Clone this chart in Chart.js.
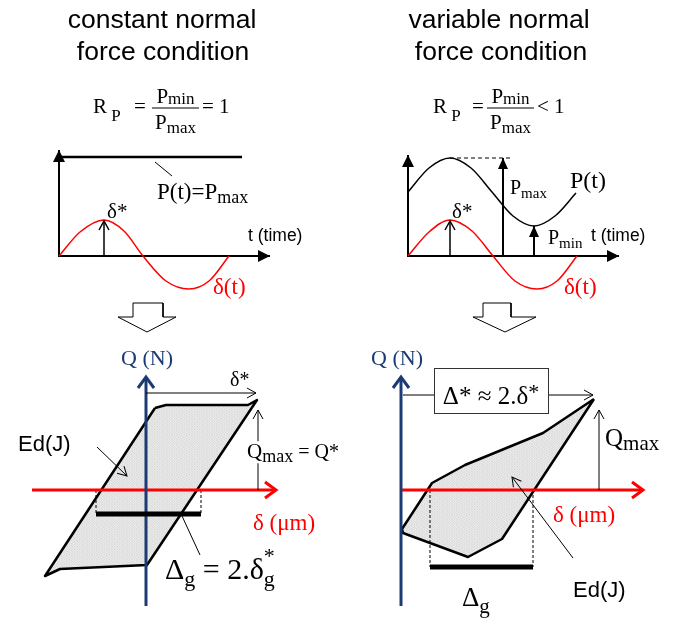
<!DOCTYPE html>
<html>
<head>
<meta charset="utf-8">
<style>
  html, body { margin: 0; padding: 0; background: #fff; }
  canvas { display: block; }
</style>
<script src="https://cdn.jsdelivr.net/npm/chart.js@4.4.1/dist/chart.umd.min.js"></script>
</head>
<body>
<canvas id="diagram" width="678" height="620" style="width:678px;height:620px"></canvas>
<script>
// --- data: diagram units (x 0..678, y 0..620, y downwards) ---

// top left: constant normal force
const tlAxisV = [[59, 257], [59, 150]];
const tlAxisH = [[58, 256], [270, 256]];
const tlPconst = [[59, 157], [242, 157]];
const tlPleader = [[155, 162], [172, 176]];
const tlDeltaX = [59, 80, 104, 124, 143, 166, 189, 209, 229];
const tlDeltaY = [256, 232, 220, 231, 256, 281, 289, 281, 256];
const tlDeltaStar = [[104, 256], [104, 221]];
const tlFracBar = [[152, 108], [199, 108]];

// top right: variable normal force
const trAxisV = [[408, 257], [408, 155]];
const trAxisH = [[407, 256], [619, 256]];
const trPX = [408, 429, 450, 471, 492, 513, 534, 555, 576];
const trPY = [192, 168, 158, 168, 192, 216, 226, 216, 193];
const trDeltaX = [408, 429, 450, 472, 493, 515, 537, 557, 577];
const trDeltaY = [256, 232, 220, 231, 256, 281, 289, 281, 256];
const trPmaxDash = [[450, 158], [512, 158]];
const trPmaxArrow = [[503, 256], [503, 158]];
const trPminArrow = [[534, 256], [534, 226]];
const trDeltaStar = [[450, 256], [450, 221]];
const trFracBar = [[487, 108], [534, 108]];

// hollow block arrows
const blockLeft = [[133, 303], [163, 303], [163, 317], [176, 317], [147, 332], [118, 317], [133, 317], [133, 303]];
const blockRight = [[483, 303], [511, 303], [511, 317], [536, 317], [505, 332], [473, 317], [483, 317], [483, 303]];

// bottom left: fretting loop, constant force
const blAxisQ = [[146, 606], [146, 377]];
const blAxisD = [[32, 490], [276, 490]];
const blLoop = [[155, 408], [166, 405], [248, 405], [257, 400], [147, 565], [60, 569], [45, 576], [155, 408]];
const blDeltaStar = [[146, 393], [256, 393]];
const blQmax = [[258, 490], [258, 410]];
const blEdLeader = [[97, 447], [127, 476]];
const blBar = [[96, 514], [201, 514]];
const blDashL = [[96, 490], [96, 514]];
const blDashR = [[201, 490], [201, 514]];
const blGLeader = [[182, 516], [200, 555]];

// bottom right: fretting loop, variable force
const brAxisQ = [[401, 606], [401, 377]];
const brAxisD = [[400, 490], [643, 490]];
const brLoop = [[594, 399], [543, 433], [465, 465], [432, 483], [402, 529], [403, 533], [468, 557], [502, 539], [594, 399]];
const brDeltaStar = [[403, 395], [593, 395]];
const brQmax = [[599, 490], [599, 410]];
const brEdLeader = [[573, 558], [512, 477]];
const brBar = [[430, 567], [533, 567]];
const brDashL = [[430, 490], [430, 567]];
const brDashR = [[533, 490], [533, 567]];

// --- styles ---
const RED = '#ff0000';
const NAVY = '#1c3a73';
const SERIF = '"Liberation Serif", "Times New Roman", serif';
const SANS = '"Liberation Sans", Arial, sans-serif';

// grainy light grey fill, fixed tile (no randomness)
const makeGrain = () => {
  const tile = document.createElement('canvas');
  tile.width = 5; tile.height = 5;
  const t = tile.getContext('2d');
  const shades = [
    '#e4e4e4', '#dcdcdc', '#ebebeb', '#e1e1e1', '#e8e8e8',
    '#eaeaea', '#e2e2e2', '#d9d9d9', '#e9e9e9', '#dfdfdf',
    '#dedede', '#ececec', '#e5e5e5', '#dbdbdb', '#e6e6e6',
    '#e7e7e7', '#dadada', '#e3e3e3', '#ededed', '#e0e0e0',
    '#ebebeb', '#e5e5e5', '#dddddd', '#e6e6e6', '#d8d8d8'
  ];
  shades.forEach((c, i) => { t.fillStyle = c; t.fillRect(i % 5, Math.floor(i / 5), 1, 1); });
  return t.createPattern(tile, 'repeat');
};
const LOOP_FILL = makeGrain();

const zip = (xs, ys) => xs.map((x, i) => [x, ys[i]]);

const seg = (points, o = {}) => ({
  data: points.map(([x, y]) => ({ x, y })),
  showLine: true,
  pointRadius: 0,
  pointHoverRadius: 0,
  borderColor: o.color || '#000',
  borderWidth: o.width ?? 1,
  borderDash: o.dash || [],
  borderCapStyle: 'butt',
  borderJoinStyle: o.join || 'round',
  fill: o.fill ? 'shape' : false,
  backgroundColor: o.fill || 'transparent',
  cubicInterpolationMode: o.smooth ? 'monotone' : 'default',
  tension: 0,
  arrow: o.arrow || null
});

const FILLED = { filled: true, len: 12, half: 6 };
const FILLED_S = { filled: true, len: 11, half: 5 };
const OPEN = { filled: false, len: 9, half: 5 };
const OPEN_BIG = { filled: false, len: 11, half: 8 };

const datasets = [
  seg(blockLeft, { fill: '#fff' }),
  seg(blockRight, { fill: '#fff' }),

  seg(tlPconst, { width: 2.5 }),
  seg(tlAxisV, { width: 2, arrow: FILLED }),
  seg(tlAxisH, { width: 2, arrow: FILLED }),
  seg(tlPleader),
  seg(zip(tlDeltaX, tlDeltaY), { color: RED, width: 1.5, smooth: true }),
  seg(tlDeltaStar, { width: 1.5, arrow: OPEN }),
  seg(tlFracBar),

  seg(zip(trPX, trPY), { width: 1.5, smooth: true }),
  seg(trPmaxDash, { width: 1.2, dash: [4, 3] }),
  seg(trAxisV, { width: 2, arrow: FILLED }),
  seg(trAxisH, { width: 2, arrow: FILLED }),
  seg(trPmaxArrow, { width: 2, arrow: FILLED_S }),
  seg(trPminArrow, { width: 2, arrow: FILLED_S }),
  seg(zip(trDeltaX, trDeltaY), { color: RED, width: 1.5, smooth: true }),
  seg(trDeltaStar, { width: 1.5, arrow: OPEN }),
  seg(trFracBar),

  seg(blLoop, { width: 2.5, fill: LOOP_FILL }),
  seg(blDashL, { dash: [3, 2] }),
  seg(blDashR, { dash: [3, 2] }),
  seg(blAxisD, { color: RED, width: 3, arrow: OPEN_BIG, join: 'miter' }),
  seg(blAxisQ, { color: NAVY, width: 3, arrow: OPEN_BIG, join: 'miter' }),
  seg(blBar, { width: 5 }),
  seg(blDeltaStar, { arrow: OPEN }),
  seg(blQmax, { arrow: OPEN }),
  seg(blEdLeader, { arrow: OPEN }),
  seg(blGLeader),

  seg(brLoop, { width: 2.5, fill: LOOP_FILL }),
  seg(brDashL, { dash: [3, 2] }),
  seg(brDashR, { dash: [3, 2] }),
  seg(brAxisD, { color: RED, width: 3, arrow: OPEN_BIG, join: 'miter' }),
  seg(brAxisQ, { color: NAVY, width: 3, arrow: OPEN_BIG, join: 'miter' }),
  seg(brBar, { width: 5 }),
  seg(brDeltaStar, { arrow: OPEN }),
  seg(brQmax, { arrow: OPEN }),
  seg(brEdLeader, { arrow: OPEN })
];
// later datasets paint on top
datasets.forEach((d, i) => { d.order = -i; });

// --- text: each part is [text, size, dy, over] ---
const labels = [
  { x: 162, y: 28, font: SANS, align: 'center', parts: [['constant normal', 26.5]] },
  { x: 163, y: 60, font: SANS, align: 'center', parts: [['force condition', 26.5]] },
  { x: 499, y: 28, font: SANS, align: 'center', parts: [['variable normal', 26.5]] },
  { x: 501, y: 60, font: SANS, align: 'center', parts: [['force condition', 26.5]] },

  { x: 93, y: 113, parts: [['R\u2009', 21], ['P', 17, 8]] },
  { x: 134, y: 113, parts: [['=', 21]] },
  { x: 175.5, y: 103, align: 'center', parts: [['P', 21], ['min', 17, 1]] },
  { x: 175.5, y: 129, align: 'center', parts: [['P', 21], ['max', 17, 4]] },
  { x: 202, y: 113, parts: [['= 1', 21]] },
  { x: 157, y: 199, parts: [['P(t)=P', 23], ['max', 18, 4]] },
  { x: 107, y: 218, parts: [['δ*', 21]] },
  { x: 248, y: 241, font: SANS, parts: [['t (time)', 17.5]] },
  { x: 213, y: 294, color: RED, parts: [['δ(t)', 23]] },

  { x: 433, y: 113, parts: [['R\u2009', 21], ['P', 17, 8]] },
  { x: 472, y: 113, parts: [['=', 21]] },
  { x: 510.5, y: 103, align: 'center', parts: [['P', 21], ['min', 17, 1]] },
  { x: 510.5, y: 129, align: 'center', parts: [['P', 21], ['max', 17, 4]] },
  { x: 537, y: 113, parts: [['< 1', 21]] },
  { x: 570, y: 188, parts: [['P(t)', 24]] },
  { x: 510, y: 194, parts: [['P', 20], ['max', 15, 4]] },
  { x: 548, y: 244, parts: [['P', 20], ['min', 15, 4]] },
  { x: 452, y: 218, parts: [['δ*', 21]] },
  { x: 591, y: 241, font: SANS, parts: [['t (time)', 17.5]] },
  { x: 564, y: 294, color: RED, parts: [['δ(t)', 23]] },

  { x: 147, y: 365, align: 'center', color: NAVY, parts: [['Q (N)', 22]] },
  { x: 230, y: 386, parts: [['δ*', 20]] },
  { x: 247, y: 458, bg: '#fff', parts: [['Q', 21], ['max', 18, 4], [' = Q*', 20]] },
  { x: 18, y: 451, font: SANS, parts: [['Ed(J)', 22]] },
  { x: 253, y: 530, color: RED, parts: [['δ (μm)', 23]] },
  { x: 165, y: 579, parts: [['Δ', 30], ['g', 22, 7], [' = 2.δ', 30], ['g', 22, 7], ['*', 22, -16, true]] },

  { x: 397, y: 365, align: 'center', color: NAVY, parts: [['Q (N)', 22]] },
  { x: 491, y: 404, align: 'center', box: true, parts: [['Δ* ≈ 2.δ', 25], ['*', 22, -5]] },
  { x: 605, y: 446, parts: [['Q', 25], ['max', 21, 4]] },
  { x: 553, y: 522, color: RED, parts: [['δ (μm)', 23]] },
  { x: 573, y: 597, font: SANS, parts: [['Ed(J)', 22]] },
  { x: 462, y: 606, parts: [['Δ', 27], ['g', 21, 7]] }
];

const boxPad = { left: 434, right: 548, top: 368, bottom: 413 };

const arrowHeads = {
  id: 'arrowHeads',
  afterDatasetDraw(chart, args) {
    const ds = chart.data.datasets[args.index];
    const a = ds.arrow;
    if (!a) return;
    const pts = args.meta.data;
    const p = pts[pts.length - 1];
    const q = pts[pts.length - 2];
    const ang = Math.atan2(p.y - q.y, p.x - q.x);
    const ctx = chart.ctx;
    ctx.save();
    ctx.translate(p.x, p.y);
    ctx.rotate(ang);
    ctx.beginPath();
    ctx.moveTo(-a.len, -a.half);
    ctx.lineTo(0, 0);
    ctx.lineTo(-a.len, a.half);
    if (a.filled) {
      ctx.closePath();
      ctx.fillStyle = ds.borderColor;
      ctx.fill();
    } else {
      ctx.strokeStyle = ds.borderColor;
      ctx.lineWidth = ds.borderWidth;
      ctx.lineJoin = 'miter';
      ctx.lineCap = 'butt';
      ctx.stroke();
    }
    ctx.restore();
  }
};

const textLayer = {
  id: 'textLayer',
  afterDatasetsDraw(chart) {
    const ctx = chart.ctx;
    const sx = chart.scales.x, sy = chart.scales.y;
    ctx.save();
    ctx.textBaseline = 'alphabetic';
    ctx.textAlign = 'left';

    labels.forEach(l => {
      const family = l.font || SERIF;
      // measure
      let w = 0, prevStart = 0;
      const placed = l.parts.map(([t, s, dy = 0, over = false]) => {
        ctx.font = `${s}px ${family}`;
        const tw = ctx.measureText(t).width;
        const start = over ? prevStart : w;
        if (!over) { prevStart = w; w += tw; }
        return { t, s, dy, start };
      });
      let x0 = sx.getPixelForValue(l.x);
      const y0 = sy.getPixelForValue(l.y);
      if (l.align === 'center') x0 -= w / 2;

      if (l.box) {
        const bx = sx.getPixelForValue(boxPad.left), by = sy.getPixelForValue(boxPad.top);
        const bw = sx.getPixelForValue(boxPad.right) - bx, bh = sy.getPixelForValue(boxPad.bottom) - by;
        ctx.fillStyle = '#fff';
        ctx.fillRect(bx, by, bw, bh);
        ctx.strokeStyle = '#333';
        ctx.lineWidth = 1;
        ctx.strokeRect(bx + 0.5, by + 0.5, bw, bh);
      }
      if (l.bg) {
        const s = l.parts[0][1];
        ctx.fillStyle = l.bg;
        ctx.fillRect(x0 - 1, y0 - s * 0.8, w + 2, s * 1.05);
      }
      ctx.fillStyle = l.color || '#000';
      placed.forEach(p => {
        ctx.font = `${p.s}px ${family}`;
        ctx.fillText(p.t, x0 + p.start, y0 + p.dy);
      });
    });
    ctx.restore();
  }
};

new Chart(document.getElementById('diagram'), {
  type: 'scatter',
  data: { datasets },
  options: {
    responsive: false,
    animation: false,
    events: [],
    layout: { padding: 0 },
    plugins: { legend: { display: false }, tooltip: { enabled: false } },
    scales: {
      x: { type: 'linear', min: 0, max: 678, display: false },
      y: { type: 'linear', min: 0, max: 620, reverse: true, display: false }
    }
  },
  plugins: [arrowHeads, textLayer]
});
</script>
</body>
</html>
